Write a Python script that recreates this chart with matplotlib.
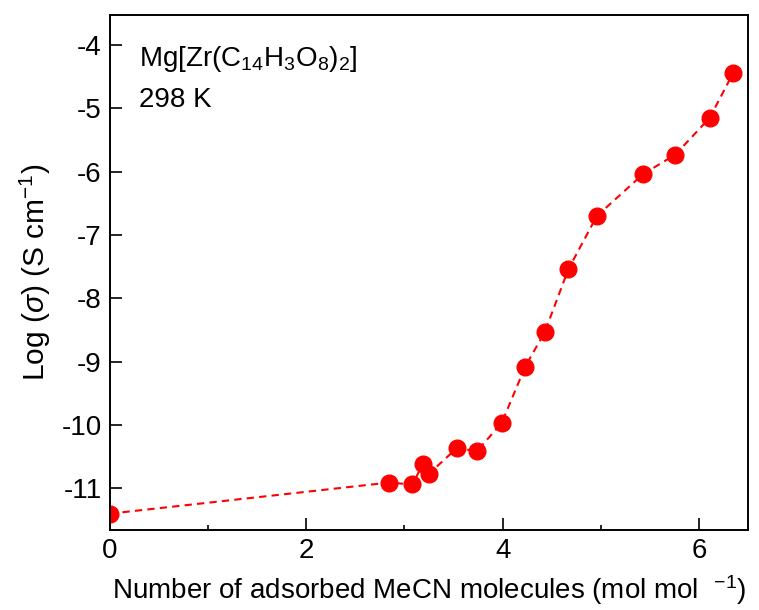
import matplotlib
matplotlib.use("Agg")
import matplotlib.pyplot as plt
from matplotlib.ticker import MultipleLocator

plt.rcParams['font.family'] = ['Liberation Sans', 'DejaVu Sans']
plt.rcParams['mathtext.fontset'] = 'custom'
plt.rcParams['mathtext.rm'] = 'Liberation Sans'
plt.rcParams['mathtext.it'] = 'Liberation Sans:italic'

mecn = [0.0, 2.84, 3.08, 3.19, 3.25, 3.53, 3.74, 3.99, 4.23, 4.43, 4.67, 4.96, 5.43, 5.76, 6.11, 6.35]
log_sigma = [-11.40, -10.91, -10.94, -10.61, -10.77, -10.37, -10.41, -9.97, -9.08, -8.53, -7.54, -6.70, -6.04, -5.73, -5.15, -4.44]
x_ticks = [0, 2, 4, 6]
y_ticks = [-11, -10, -9, -8, -7, -6, -5, -4]

fig = plt.figure(figsize=(7.59, 6.10), dpi=100)
ax = fig.add_axes([0.145, 0.131, 0.8405, 0.844])

ax.plot(mecn, log_sigma, color='#ff0000', linestyle=(0, (3.5, 2.5)), linewidth=1.5,
        marker='o', markersize=12, markerfacecolor='#ff0000', markeredgecolor='#ff0000')

ax.set_xlim(0, 6.5)
ax.set_ylim(-11.66, -3.53)
ax.set_xticks(x_ticks)
ax.set_xticklabels([str(v) for v in x_ticks])
ax.set_yticks(y_ticks)
ax.set_yticklabels([str(v) for v in y_ticks])
ax.xaxis.set_minor_locator(MultipleLocator(1))

ax.tick_params(axis='both', which='major', direction='in', length=8.5, width=1.2, labelsize=20, pad=6)
ax.tick_params(axis='both', which='minor', direction='in', length=3.5, width=1.2)
ax.tick_params(axis='y', which='both', left=True, right=False)
ax.tick_params(axis='x', which='both', top=False)
for s in ax.spines.values():
    s.set_linewidth(1.4)

ax.set_xlabel('Number of adsorbed MeCN molecules (mol mol  $^{-1}$)', fontsize=20, labelpad=6)
ax.set_ylabel(r'Log ($\sigma$) (S cm$^{-1}$)', fontsize=21.5, labelpad=6)

ax.text(0.046, 0.945, r'Mg[Zr(C$_{14}$H$_3$O$_8$)$_2$]', transform=ax.transAxes,
        fontsize=20, ha='left', va='top')
ax.text(0.046, 0.86, '298 K', transform=ax.transAxes, fontsize=20, ha='left', va='top')

fig.savefig('out.png', dpi=100)
